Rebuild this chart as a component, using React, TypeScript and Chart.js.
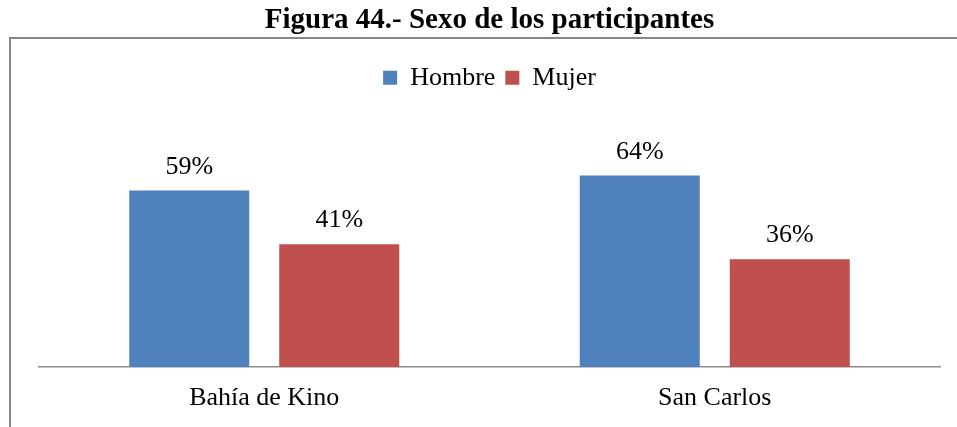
import React, { useEffect, useRef } from "react";
import { Chart, registerables } from "chart.js";

Chart.register(...registerables);

const categories = ["Bahía de Kino", "San Carlos"];
const hombre = [59, 64];
const mujer = [41, 36];
const seriesNames = ["Hombre", "Mujer"];
const titleText = "Figura 44.- Sexo de los participantes";

const FONT = "'Liberation Serif', 'Times New Roman', serif";

const framePlugin = {
  id: "frame",
  beforeDraw(chart: any) {
    const ctx = chart.ctx;
    ctx.save();
    ctx.strokeStyle = "#868686";
    ctx.lineWidth = 2;
    ctx.beginPath();
    ctx.moveTo(10, 440);
    ctx.lineTo(10, 38);
    ctx.lineTo(960, 38);
    ctx.stroke();
    ctx.restore();
  },
};

const labelPlugin = {
  id: "valueLabels",
  afterDatasetsDraw(chart: any) {
    const ctx = chart.ctx;
    ctx.save();
    ctx.font = `26px ${FONT}`;
    ctx.fillStyle = "#000";
    ctx.textAlign = "center";
    ctx.textBaseline = "alphabetic";
    chart.data.datasets.forEach((ds: any, i: number) => {
      const meta = chart.getDatasetMeta(i);
      meta.data.forEach((bar: any, j: number) => {
        ctx.fillText(`${ds.data[j]}%`, bar.x, bar.y - 17);
      });
    });
    ctx.restore();
  },
};

export default function App() {
  const ref = useRef<HTMLCanvasElement | null>(null);
  useEffect(() => {
    if (!ref.current) return;
    const chart = new Chart(ref.current, {
      type: "bar",
      data: {
        labels: categories,
        datasets: [
          {
            label: seriesNames[0],
            data: hombre,
            backgroundColor: "#4F81BD",
            categoryPercentage: 0.666,
            barPercentage: 0.8,
          },
          {
            label: seriesNames[1],
            data: mujer,
            backgroundColor: "#C0504D",
            categoryPercentage: 0.666,
            barPercentage: 0.8,
          },
        ],
      },
      options: {
        responsive: false,
        animation: false,
        layout: { padding: { left: 39, right: 17, top: 0, bottom: 0 } },
        scales: {
          x: {
            grid: { display: false, drawTicks: false },
            border: { display: true, color: "#8c8c8c", width: 1.5 },
            ticks: { color: "#000", font: { family: FONT, size: 26 }, padding: 16 },
            afterFit: (scale: any) => {
              scale.height = 60;
            },
          },
          y: {
            display: false,
            min: 0,
            max: 89,
          },
        },
        plugins: {
          title: {
            display: true,
            text: titleText,
            color: "#000",
            font: { family: FONT, size: 29, weight: "bold" },
            padding: { top: 3, bottom: 17 },
          },
          legend: {
            display: true,
            position: "top",
            labels: {
              color: "#000",
              font: { family: FONT, size: 26 },
              boxWidth: 14,
              boxHeight: 14,
              padding: 10,
            },
          },
          tooltip: { enabled: false },
        },
      },
      plugins: [framePlugin, labelPlugin],
    });
    return () => chart.destroy();
  }, []);
  return (
    <div style={{ position: "absolute", left: 0, top: 0, width: 957, height: 427, background: "#fff" }}>
      <canvas ref={ref} width={957} height={427} />
    </div>
  );
}
